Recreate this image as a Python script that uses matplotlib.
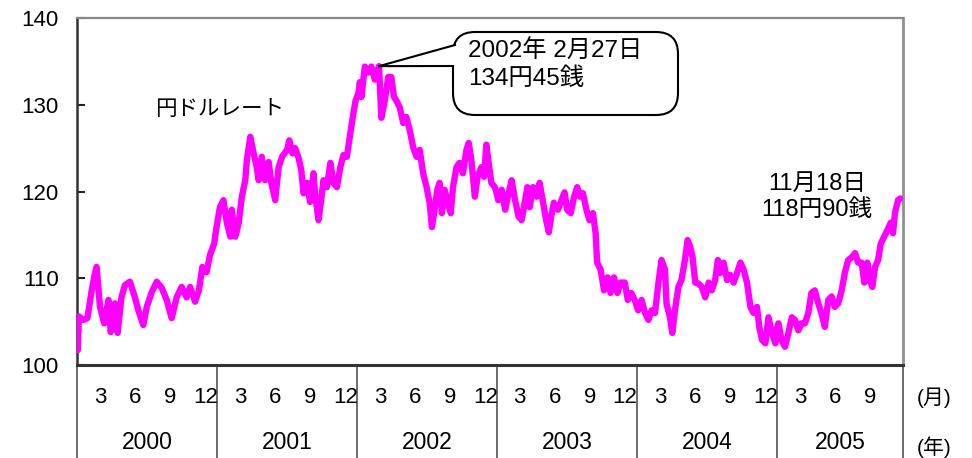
import matplotlib
matplotlib.use("Agg")
import pandas as pd
from matplotlib import pyplot as plt
from matplotlib import transforms
from matplotlib.patches import FancyBboxPatch, Rectangle
import matplotlib.dates as mdates

plt.rcParams["font.family"] = ["Liberation Sans", "Noto Sans CJK JP"]

# yen per dollar as (month-day, value) per year
days_2000 = ["01-03", "01-06", "01-17", "01-28", "02-08", "02-15", "02-21", "03-01",
             "03-12", "03-23", "03-29", "04-09", "04-16", "04-26", "05-05", "05-18",
             "05-31", "06-09", "06-22", "07-01", "07-14", "07-27", "08-09", "08-22",
             "09-04", "09-17", "09-30", "10-13", "10-22", "11-04", "11-14", "11-23",
             "12-04", "12-13", "12-24", "12-30"]
rate_2000 = [101.7, 105.6, 105.2, 105.4, 108.5, 110.2, 111.3, 106.7,
             104.8, 107.5, 103.8, 107.1, 103.7, 107.8, 109.2, 109.6,
             107.8, 106.3, 104.6, 106.7, 108.4, 109.6, 108.9, 107.5,
             105.4, 107.8, 109.0, 107.8, 109.0, 107.3, 108.6, 111.3,
             110.7, 112.7, 114.0, 115.9]

days_2001 = ["01-08", "01-17", "01-26", "02-04", "02-08", "02-17", "02-26", "03-06",
             "03-15", "03-19", "03-28", "04-06", "04-14", "04-19", "04-27", "05-06",
             "05-15", "05-22", "06-01", "06-10", "06-19", "07-02", "07-08", "07-16",
             "07-23", "08-01", "08-08", "08-14", "08-23", "08-31", "09-09", "09-13",
             "09-22", "09-29", "10-05", "10-14", "10-23", "10-31", "11-09", "11-18",
             "11-26", "12-05", "12-14", "12-22", "12-28"]
rate_2001 = [118.2, 119.0, 116.4, 114.8, 117.9, 114.8, 116.4, 119.4,
             121.3, 123.6, 126.3, 124.4, 122.8, 121.3, 124.0, 121.3,
             123.4, 121.0, 119.0, 122.8, 124.0, 124.8, 125.9, 124.4,
             125.0, 123.9, 122.5, 119.8, 121.0, 118.8, 122.1, 119.8,
             116.7, 119.0, 121.3, 120.5, 123.3, 121.0, 120.5, 122.8,
             124.2, 124.0, 126.7, 129.0, 130.5]

days_2002 = ["01-04", "01-08", "01-12", "01-21", "01-30", "02-07", "02-16", "02-27",
             "03-05", "03-14", "03-23", "03-31", "04-07", "04-13", "04-22", "05-01",
             "05-09", "05-18", "05-27", "06-05", "06-13", "06-22", "07-01", "07-09",
             "07-15", "07-22", "07-29", "08-04", "08-10", "08-17", "08-26", "09-02",
             "09-08", "09-17", "09-25", "10-04", "10-13", "10-19", "10-26", "11-04",
             "11-11", "11-21", "11-28", "12-04", "12-10", "12-17", "12-26", "12-31"]
rate_2002 = [131.3, 132.6, 130.9, 134.4, 133.7, 134.4, 132.9, 134.45,
             128.5, 130.5, 133.2, 133.2, 130.9, 130.5, 129.7, 127.9,
             128.6, 127.1, 125.1, 124.0, 124.8, 122.1, 120.5, 118.7,
             115.9, 117.9, 120.2, 121.0, 117.5, 120.2, 118.7, 117.5,
             120.5, 122.8, 123.3, 122.1, 124.8, 125.6, 123.6, 119.4,
             121.7, 122.8, 121.7, 125.4, 123.3, 121.0, 120.5, 119.8]

days_2003 = ["01-04", "01-13", "01-22", "01-31", "02-08", "02-17", "02-26", "03-06",
             "03-15", "03-21", "03-27", "04-05", "04-14", "04-22", "05-01", "05-09",
             "05-16", "05-22", "05-29", "06-09", "06-18", "06-26", "07-03", "07-12",
             "07-21", "07-29", "08-05", "08-13", "08-22", "08-30", "09-08", "09-15",
             "09-19", "09-28", "10-07", "10-16", "10-24", "11-02", "11-11", "11-19",
             "11-30", "12-08", "12-17", "12-26"]
rate_2003 = [119.0, 120.2, 117.9, 119.8, 121.3, 119.0, 117.1, 116.7,
             119.0, 120.5, 118.2, 120.5, 119.4, 121.0, 118.7, 116.7,
             115.3, 117.1, 118.7, 117.9, 119.0, 119.9, 117.9, 117.5,
             119.4, 120.5, 119.4, 119.8, 117.9, 116.7, 117.5, 115.2,
             111.8, 111.0, 108.6, 110.1, 108.3, 110.1, 108.3, 109.5,
             109.5, 107.5, 108.3, 107.5]

days_2004 = ["01-04", "01-13", "01-22", "01-31", "02-08", "02-17", "02-26", "03-05",
             "03-14", "03-18", "03-27", "04-02", "04-09", "04-18", "04-26", "05-05",
             "05-12", "05-19", "05-25", "06-01", "06-09", "06-18", "06-27", "07-06",
             "07-14", "07-23", "07-30", "08-05", "08-14", "08-23", "08-31", "09-09",
             "09-18", "09-27", "10-05", "10-14", "10-23", "10-31", "11-09", "11-15",
             "11-22", "12-01", "12-09", "12-18", "12-27", "12-30"]
rate_2004 = [106.3, 107.5, 106.0, 105.2, 106.3, 106.0, 109.5, 112.1,
             111.0, 107.1, 105.5, 103.7, 106.3, 109.0, 109.8, 112.1,
             114.4, 113.6, 112.4, 109.5, 109.4, 109.0, 107.8, 109.5,
             108.6, 109.8, 112.1, 110.6, 111.8, 109.8, 110.4, 109.5,
             110.6, 111.8, 111.0, 109.5, 106.7, 106.0, 106.7, 104.4,
             102.9, 102.5, 105.5, 103.7, 102.5, 104.0]

days_2005 = ["01-04", "01-12", "01-21", "01-30", "02-08", "02-16", "02-25", "03-05",
             "03-14", "03-23", "03-31", "04-09", "04-18", "04-26", "05-05", "05-14",
             "05-23", "05-31", "06-09", "06-18", "06-26", "07-05", "07-14", "07-23",
             "07-31", "08-09", "08-16", "08-24", "08-30", "09-06", "09-13", "09-21",
             "09-28", "10-07", "10-16", "10-24", "10-30", "11-04", "11-12", "11-18"]
rate_2005 = [104.8, 102.9, 102.1, 103.7, 105.5, 105.2, 104.0, 104.8,
             104.8, 106.0, 108.3, 108.6, 107.1, 106.0, 104.4, 107.5,
             107.9, 106.7, 107.1, 108.6, 110.6, 112.1, 112.4, 112.9,
             111.8, 111.8, 109.5, 111.8, 109.8, 109.0, 111.3, 112.1,
             114.0, 114.8, 115.6, 116.4, 115.2, 117.5, 119.0, 119.2]

years = [2000, 2001, 2002, 2003, 2004, 2005]
all_days = [days_2000, days_2001, days_2002, days_2003, days_2004, days_2005]
all_rates = [rate_2000, rate_2001, rate_2002, rate_2003, rate_2004, rate_2005]
month_labels = [3, 6, 9, 12]

peak_date, peak_rate = "2002-02-27", 134.45
peak_text = "2002年 2月27日\n134円45銭"
last_text = "11月18日\n118円90銭"

dates, rates = [], []
for yr, dd, rr in zip(years, all_days, all_rates):
    dates += [f"{yr}-{d}" for d in dd]
    rates += rr
df = pd.DataFrame({"date": pd.to_datetime(dates), "rate": rates})

fig = plt.figure(figsize=(9.72, 4.58), dpi=100)
ax = fig.add_axes([77 / 972, 93 / 458, 826 / 972, 347 / 458])

ax.plot(df["date"], df["rate"], color="#ff00ff", linewidth=4.6,
        solid_joinstyle="round", solid_capstyle="round", zorder=3)

x_start = pd.Timestamp("2000-01-01")
x_end = pd.Timestamp("2005-11-25")
ax.set_xlim(x_start, x_end)
ax.set_ylim(100, 140)
ax.set_yticks([100, 110, 120, 130, 140])
ax.set_xticks([])
ax.tick_params(axis="y", direction="in", length=6, width=1.5, pad=13,
               labelsize=16, color="#222222")

for side, col, lw in [("left", "#333333", 1.8), ("bottom", "#333333", 2.2),
                      ("top", "#888888", 1.6), ("right", "#909090", 2.0)]:
    ax.spines[side].set_color(col)
    ax.spines[side].set_linewidth(lw)

# month / year labels under the axis
blend = transforms.blended_transform_factory(ax.transData, ax.transAxes)
bounds = [pd.Timestamp(f"{y}-01-01") for y in years] + [x_end]
for b in bounds:
    ax.plot([b, b], [0, -0.27], transform=blend, clip_on=False,
            color="#606060", linewidth=1.3)
for i, yr in enumerate(years):
    for m in month_labels:
        d = pd.Timestamp(f"{yr}-{m:02d}-01")
        if d < x_end:
            ax.text(d, -0.095, str(m), transform=blend, ha="center",
                    va="center", fontsize=16)
    mid = bounds[i] + (bounds[i + 1] - bounds[i]) / 2
    ax.text(mid, -0.222, str(yr), transform=blend, ha="center",
            va="center", fontsize=16.5)
fig.text(934 / 972, 1 - 398 / 458, "(月)", ha="center", va="center", fontsize=15)
fig.text(934 / 972, 1 - 447 / 458, "(年)", ha="center", va="center", fontsize=15)

ax.text(pd.Timestamp("2001-01-08"), 129.4, "円ドルレート", ha="center",
        va="center", fontsize=15.5)
fig.text(817 / 972, 1 - 197 / 458, last_text, ha="center", va="center",
         fontsize=17, linespacing=1.25)

# callout box for the peak
ident = transforms.IdentityTransform()
box = FancyBboxPatch((453, 343), 225, 83,
                     boxstyle="round,pad=0,rounding_size=22",
                     transform=ident, facecolor="white", edgecolor="black",
                     linewidth=1.5, zorder=5)
fig.patches.append(box)
tip = ax.transData.transform((mdates.date2num(pd.Timestamp(peak_date)), peak_rate))
b_hi, b_lo = (455, 413), (453, 392)
fig.patches.append(Rectangle((448, 392.8), 12, 19.5, transform=ident,
                             facecolor="white", edgecolor="none", zorder=6))
fig.lines.append(plt.Line2D([tip[0], b_hi[0]], [tip[1], b_hi[1]], transform=ident,
                            color="black", linewidth=1.5, zorder=7))
fig.lines.append(plt.Line2D([tip[0], b_lo[0]], [tip[1], b_lo[1]], transform=ident,
                            color="black", linewidth=1.5, zorder=7))
fig.text(468 / 972, 1 - 65 / 458, peak_text, ha="left", va="center",
         fontsize=17.5, linespacing=1.28, zorder=8)

fig.savefig("out.png", dpi=100, facecolor="white")
